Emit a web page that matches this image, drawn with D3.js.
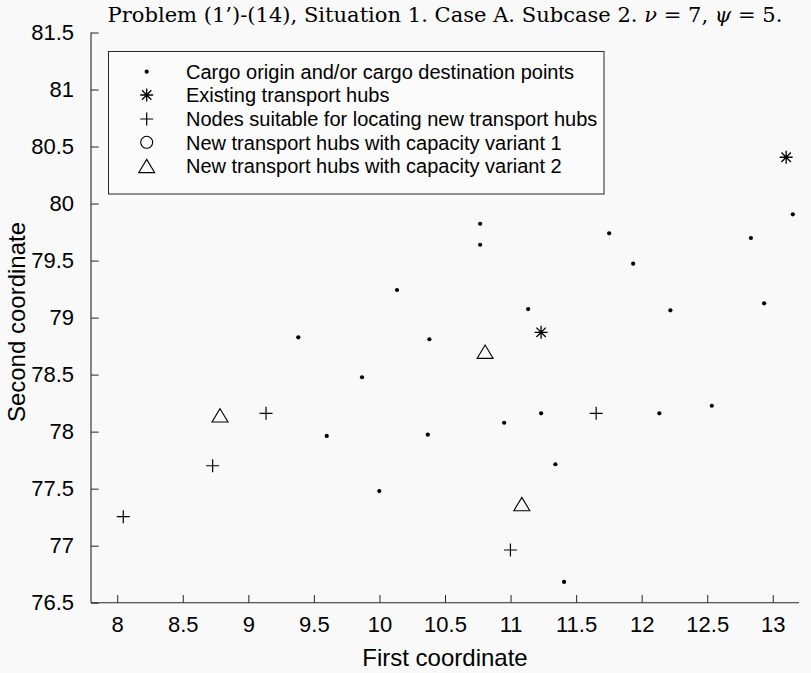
<!DOCTYPE html>
<html>
<head>
<meta charset="utf-8">
<script src="https://cdn.jsdelivr.net/npm/d3@7/dist/d3.min.js"></script>
<style>
  html, body { margin: 0; padding: 0; background: #f9f9f9; }
  svg { display: block; }
</style>
</head>
<body>
<svg id="chart" width="811" height="673"></svg>
<script>
// ---- data ----
const cargoX = [10.134, 9.381, 10.381, 9.867, 9.598, 10.369, 9.999, 10.768, 10.768, 11.752, 12.833,
                11.935, 11.134, 12.219, 12.934, 10.951, 11.233, 12.135, 12.535, 11.342, 11.408, 13.153];
const cargoY = [79.242, 78.827, 78.810, 78.477, 77.962, 77.973, 77.479, 79.823, 79.639, 79.739, 79.698,
                79.473, 79.075, 79.064, 79.125, 78.078, 78.161, 78.161, 78.227, 77.714, 76.682, 79.906];
const hubX = [11.233, 13.102];
const hubY = [78.871, 80.406];
const nodeX = [9.135, 8.728, 8.046, 11.653, 10.999];
const nodeY = [78.161, 77.701, 77.254, 78.161, 76.962];
const var1X = [];
const var1Y = [];
const var2X = [8.784, 10.806, 11.086];
const var2Y = [78.143, 78.701, 77.365];
const xTicks = [8, 8.5, 9, 9.5, 10, 10.5, 11, 11.5, 12, 12.5, 13];
const yTicks = [76.5, 77, 77.5, 78, 78.5, 79, 79.5, 80, 80.5, 81, 81.5];
const legendLabels = [
  "Cargo origin and/or cargo destination points",
  "Existing transport hubs",
  "Nodes suitable for locating new transport hubs",
  "New transport hubs with capacity variant 1",
  "New transport hubs with capacity variant 2"
];
const xLabel = "First coordinate";
const yLabel = "Second coordinate";

(function () {
// ---- layout ----
const ink = "#262626";
const sansFont = "'Liberation Sans', Arial, Helvetica, sans-serif";
const pL = 91, pR = 799, pT = 32.5, pB = 602.7;

const svg = d3.select("#chart");
const x = d3.scaleLinear().domain([7.8, 13.2]).range([pL, pR]);
const y = d3.scaleLinear().domain([76.5, 81.5]).range([pB, pT]);

// axes (ticks pointing inward, box off)
const xAxis = d3.axisBottom(x).tickValues(xTicks).tickSizeInner(-7.7).tickSizeOuter(0)
  .tickPadding(14).tickFormat(d3.format("~g"));
const yAxis = d3.axisLeft(y).tickValues(yTicks).tickSizeInner(-7.7).tickSizeOuter(0)
  .tickPadding(17).tickFormat(d3.format("~g"));

const gx = svg.append("g").attr("transform", `translate(0,${pB})`).call(xAxis);
const gy = svg.append("g").attr("transform", `translate(${pL},0)`).call(yAxis);
[gx, gy].forEach(g => {
  g.select(".domain").attr("stroke", ink).attr("stroke-width", 1.1);
  g.selectAll(".tick line").attr("stroke", ink).attr("stroke-width", 1);
  g.selectAll(".tick text").attr("fill", "#000").style("font-family", sansFont).style("font-size", "22px");
});
gy.select(".domain").attr("d", `M0,${pT}V${pB}`);
gx.select(".domain").attr("d", `M${pL},0H${pR}`);

// axis labels
svg.append("text").attr("x", (pL + pR) / 2).attr("y", 666)
  .attr("text-anchor", "middle").style("font-family", sansFont).style("font-size", "24px")
  .attr("fill", "#000").text(xLabel);
svg.append("text").attr("transform", `translate(25,322) rotate(-90)`)
  .attr("text-anchor", "middle").style("font-family", sansFont).style("font-size", "24px")
  .attr("fill", "#000").text(yLabel);

// title (LaTeX-like serif; size fitted to the reference width)
const title = svg.append("text").attr("x", (pL + pR) / 2).attr("y", 22)
  .attr("text-anchor", "middle").style("font-family", "'DejaVu Serif', 'Liberation Serif', serif")
  .style("font-size", "20px").attr("fill", "#000");
title.append("tspan").text("Problem (1\u2019)-(14), Situation 1. Case A. Subcase 2. ");
title.append("tspan").style("font-style", "italic").text("\u03BD");
title.append("tspan").text(" = 7, ");
title.append("tspan").style("font-style", "italic").text("\u03C8");
title.append("tspan").text(" = 5.");
const tw = title.node().getComputedTextLength();
if (tw > 0) title.style("font-size", Math.min(22, 20 * 675 / tw) + "px");

// ---- marker shapes ----
const plusPath = a => `M${-a},0H${a}M0,${-a}V${a}`;
const starPath = a => { const d = a * 0.72; return `M${-a},0H${a}M0,${-a}V${a}M${-d},${-d}L${d},${d}M${-d},${d}L${d},${-d}`; };
const triPath = (w, h) => `M0,${-h / 2}L${w / 2},${h / 2}L${-w / 2},${h / 2}Z`;

const marks = svg.append("g");
function drawDots(g, xs, ys) {
  g.selectAll(null).data(xs.map((v, i) => [v, ys[i]])).join("circle")
    .attr("cx", d => x(d[0])).attr("cy", d => y(d[1])).attr("r", 2.1).attr("fill", "#000");
}
function drawPaths(g, xs, ys, path, sw) {
  g.selectAll(null).data(xs.map((v, i) => [v, ys[i]])).join("path")
    .attr("transform", d => `translate(${x(d[0])},${y(d[1])})`)
    .attr("d", path).attr("fill", "none").attr("stroke", "#000").attr("stroke-width", sw);
}
drawDots(marks.append("g"), cargoX, cargoY);
drawPaths(marks.append("g"), hubX, hubY, starPath(6.5), 1.3);
drawPaths(marks.append("g"), nodeX, nodeY, plusPath(6.5), 1.2);
marks.append("g").selectAll(null).data(var1X.map((v, i) => [v, var1Y[i]])).join("circle")
  .attr("cx", d => x(d[0])).attr("cy", d => y(d[1])).attr("r", 6).attr("fill", "none").attr("stroke", "#000");
drawPaths(marks.append("g"), var2X, var2Y, triPath(16, 13.3), 1.1);

// ---- legend ----
const lg = svg.append("g");
lg.append("rect").attr("x", 108.5).attr("y", 51.5).attr("width", 495.5).attr("height", 142.5)
  .attr("fill", "#ffffff").attr("fill-opacity", 0.4).attr("stroke", ink).attr("stroke-width", 1);
const rowY = [71.7, 95, 119, 142.3, 166];
const mx = 146.7;
lg.append("circle").attr("cx", mx).attr("cy", rowY[0]).attr("r", 2.1).attr("fill", "#000");
lg.append("path").attr("transform", `translate(${mx},${rowY[1]})`).attr("d", starPath(6.5))
  .attr("fill", "none").attr("stroke", "#000").attr("stroke-width", 1.3);
lg.append("path").attr("transform", `translate(${mx},${rowY[2]})`).attr("d", plusPath(6.5))
  .attr("fill", "none").attr("stroke", "#000").attr("stroke-width", 1.2);
lg.append("circle").attr("cx", mx).attr("cy", rowY[3]).attr("r", 6)
  .attr("fill", "none").attr("stroke", "#000").attr("stroke-width", 1.1);
lg.append("path").attr("transform", `translate(${mx},${rowY[4]})`).attr("d", triPath(16, 13.3))
  .attr("fill", "none").attr("stroke", "#000").attr("stroke-width", 1.1);
lg.selectAll("text.lab").data(legendLabels).join("text").attr("class", "lab")
  .attr("x", 186).attr("y", (d, i) => rowY[i]).attr("dy", "0.36em")
  .style("font-family", sansFont).style("font-size", "20px").attr("fill", "#000").text(d => d);
})();
</script>
</body>
</html>
